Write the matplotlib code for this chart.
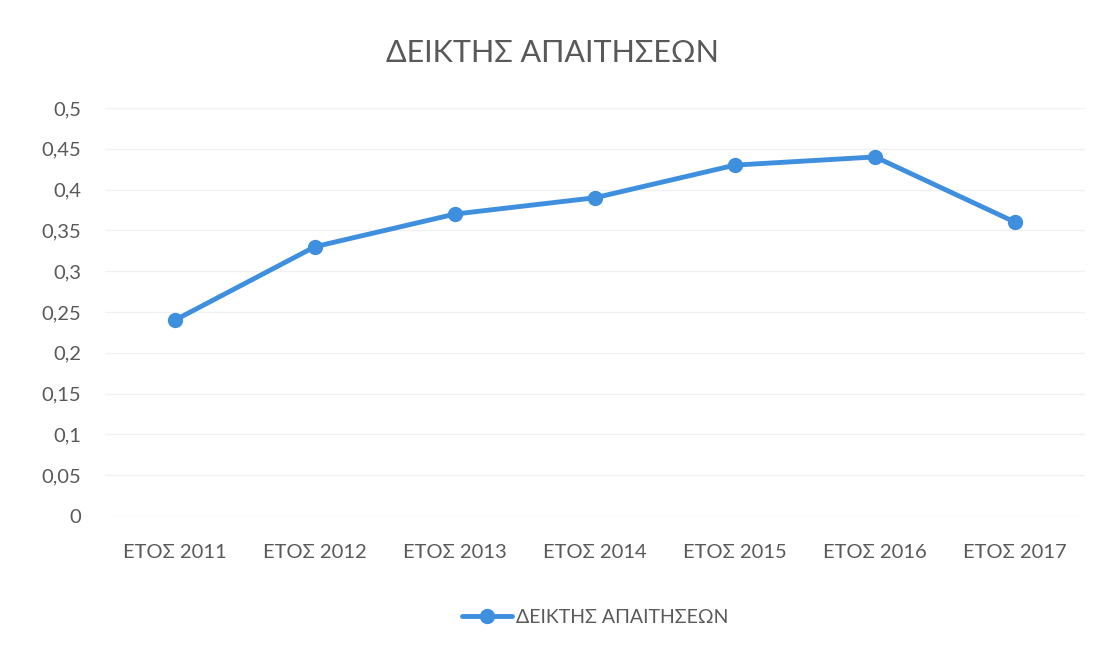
import matplotlib.pyplot as plt
from matplotlib.ticker import FuncFormatter

plt.rcParams['font.family'] = ['Lato', 'DejaVu Sans']

categories = ['ΕΤΟΣ 2011', 'ΕΤΟΣ 2012', 'ΕΤΟΣ 2013', 'ΕΤΟΣ 2014',
              'ΕΤΟΣ 2015', 'ΕΤΟΣ 2016', 'ΕΤΟΣ 2017']
values = [0.24, 0.33, 0.37, 0.39, 0.43, 0.44, 0.36]
series_name = 'ΔΕΙΚΤΗΣ ΑΠΑΙΤΗΣΕΩΝ'
yticks = [0, 0.05, 0.1, 0.15, 0.2, 0.25, 0.3, 0.35, 0.4, 0.45, 0.5]

text_col = '#595959'
line_col = '#3f8fdf'

fig = plt.figure(figsize=(11.04, 6.52), dpi=100)
ax = fig.add_axes([0.095, 0.2086, 0.888, 0.6258])

x = list(range(len(categories)))
ax.plot(x, values, color=line_col, lw=3.5, marker='o', ms=10,
        markerfacecolor=line_col, markeredgecolor=line_col,
        label=series_name, solid_capstyle='round')

ax.set_xlim(-0.5, len(categories) - 0.5)
ax.set_ylim(0, 0.5)
ax.set_yticks(yticks)
ax.yaxis.set_major_formatter(FuncFormatter(lambda v, p: ('%g' % v).replace('.', ',')))
ax.set_xticks(x)
ax.set_xticklabels(categories)
ax.tick_params(axis='both', length=0, labelsize=14.5, colors=text_col)
ax.tick_params(axis='y', pad=17)
ax.tick_params(axis='x', pad=20)
ax.grid(axis='y', color='#f1f1f1', lw=1)
ax.set_axisbelow(True)
for s in ax.spines.values():
    s.set_visible(False)

fig.text(0.5, 0.918, series_name, ha='center', va='center', fontsize=22, color=text_col)

ax.legend(loc='upper center', bbox_to_anchor=(0.5, -0.185), frameon=False,
          fontsize=14, labelcolor=text_col, handlelength=2.6, handletextpad=0.2)

fig.savefig('out.png', dpi=100)
